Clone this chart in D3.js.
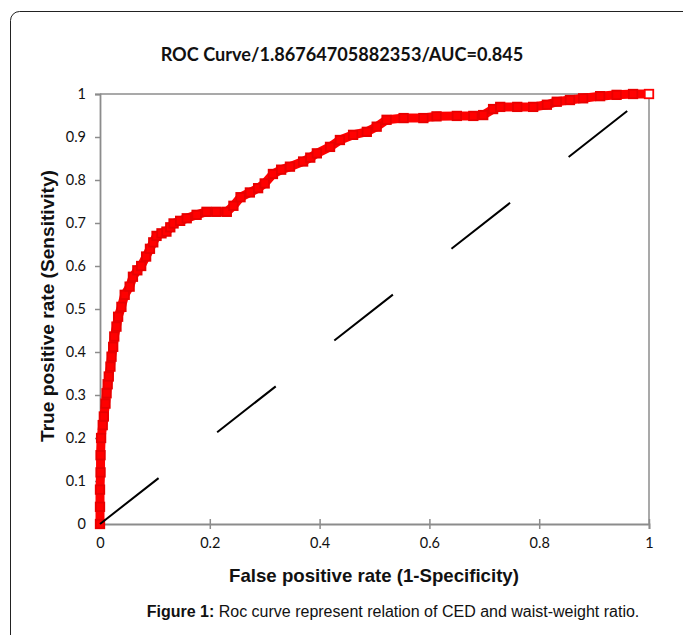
<!DOCTYPE html>
<html>
<head>
<meta charset="utf-8">
<script src="https://cdn.jsdelivr.net/npm/d3@7"></script>
<style>
  html,body{margin:0;padding:0;background:#fff;}
  svg{display:block;}
</style>
</head>
<body>
<div id="chart"></div>
<script>
// ROC points
const fpr=[0,0,0,0.001,0.001,0.002,0.005,0.007,0.010,0.012,0.014,0.016,0.019,0.021,0.024,0.026,0.030,0.033,0.039,0.045,
  0.054,0.060,0.068,0.075,0.084,0.091,0.097,0.103,0.112,0.121,0.128,0.134,0.146,0.158,0.176,0.194,0.212,0.231,0.243,0.256,
  0.273,0.288,0.300,0.315,0.330,0.346,0.370,0.383,0.395,0.419,0.437,0.461,0.486,0.504,0.522,0.553,0.589,0.613,0.650,0.680,
  0.698,0.716,0.729,0.760,0.789,0.814,0.832,0.856,0.880,0.911,0.941,0.971,1.0];
const tpr=[0,0.04,0.08,0.12,0.16,0.20,0.23,0.25,0.28,0.304,0.325,0.343,0.366,0.389,0.412,0.436,0.459,0.482,0.505,0.533,
  0.552,0.575,0.590,0.600,0.622,0.640,0.655,0.670,0.676,0.680,0.690,0.699,0.705,0.711,0.719,0.726,0.726,0.726,0.740,0.760,
  0.771,0.781,0.792,0.814,0.824,0.831,0.843,0.852,0.862,0.877,0.893,0.905,0.912,0.924,0.940,0.944,0.944,0.948,0.949,0.949,
  0.951,0.965,0.970,0.970,0.970,0.975,0.982,0.986,0.990,0.995,0.998,1.0,1.0];
const yTicks=[0,0.1,0.2,0.3,0.4,0.5,0.6,0.7,0.8,0.9,1];
const xTicks=[0,0.2,0.4,0.6,0.8,1];
const title="ROC Curve/1.86764705882353/AUC=0.845";
const xTitle="False positive rate (1-Specificity)";
const yTitle="True positive rate (Sensitivity)";

const W=683,H=635;
const svg=d3.select("#chart").append("svg").attr("width",W).attr("height",H);

// outer figure frame
svg.append("rect").attr("x",10.5).attr("y",11.5).attr("width",720).attr("height",700)
  .attr("rx",9).attr("fill","none").attr("stroke","#222").attr("stroke-width",1);

const m={left:100,top:94,right:649,bottom:524};
const x=d3.scaleLinear().domain([0,1]).range([m.left,m.right]);
const y=d3.scaleLinear().domain([0,1]).range([m.bottom,m.top]);
const axisCol="#8c8c8c";
const tickFont="Lato, 'Open Sans', sans-serif";
const arial="'Liberation Sans', Arial, sans-serif";

// shrink/grow a text node's font size until it spans the wanted width
function fitWidth(sel,size,target){
  sel.attr("font-size",size);
  const len=sel.node().getComputedTextLength();
  sel.attr("font-size",size*target/len);
}

// title
const t=svg.append("text").attr("x",342).attr("y",61).attr("text-anchor","middle")
  .attr("font-family",tickFont).attr("font-weight","bold").attr("fill","#111").text(title);
fitWidth(t,16,363);

// plot frame (top + right)
svg.append("line").attr("x1",x(0)).attr("x2",x(1)).attr("y1",y(1)).attr("y2",y(1))
  .attr("stroke",axisCol).attr("stroke-width",1.5);
svg.append("line").attr("x1",x(1)).attr("x2",x(1)).attr("y1",y(1)).attr("y2",y(0))
  .attr("stroke",axisCol).attr("stroke-width",1.5);

// y axis
const gy=svg.append("g").attr("transform",`translate(${x(0)},0)`)
  .call(d3.axisLeft(y).tickValues(yTicks).tickFormat(d=>d3.format("")(+d.toFixed(1))).tickSize(5).tickPadding(9));
gy.select(".domain").attr("stroke",axisCol).attr("stroke-width",1.8);
gy.selectAll(".tick line").attr("stroke",axisCol).attr("stroke-width",1.5);
gy.selectAll(".tick text").attr("font-family",tickFont).attr("font-size",14.5).attr("fill","#111");

// x axis with crossing ticks
const gx=svg.append("g").attr("transform",`translate(0,${y(0)})`)
  .call(d3.axisBottom(x).tickValues(xTicks).tickFormat(d=>d3.format("")(+d.toFixed(1))).tickSize(5).tickPadding(9));
gx.select(".domain").attr("stroke",axisCol).attr("stroke-width",1.8);
gx.selectAll(".tick line").attr("y1",-5).attr("y2",5).attr("stroke",axisCol).attr("stroke-width",1.5);
gx.selectAll(".tick text").attr("font-family",tickFont).attr("font-size",14.5).attr("fill","#111");

// axis titles
const xt=svg.append("text").attr("x",374).attr("y",582).attr("text-anchor","middle")
  .attr("font-family",arial).attr("font-weight","bold").attr("fill","#111").text(xTitle);
fitWidth(xt,16,290);
const yt=svg.append("text").attr("transform","translate(54,306) rotate(-90)").attr("text-anchor","middle")
  .attr("font-family",arial).attr("font-weight","bold").attr("fill","#111").text(yTitle);
fitWidth(yt,16,272);

// ROC curve: thick band + square markers
const pts=fpr.map((f,i)=>({f,t:tpr[i]}));
svg.append("path").datum(pts).attr("fill","none").attr("stroke","#f00").attr("stroke-width",9)
  .attr("stroke-linejoin","miter")
  .attr("d",d3.line().x(d=>x(d.f)).y(d=>y(d.t)));
const ms=8.5;
svg.selectAll("rect.mk").data(pts).join("rect").attr("class","mk")
  .attr("x",d=>x(d.f)-ms/2).attr("y",d=>y(d.t)-ms/2).attr("width",ms).attr("height",ms)
  .attr("fill",(d,i)=>i===pts.length-1?"#fff":"#f00")
  .attr("stroke",(d,i)=>i===pts.length-1?"#f00":"#e80000").attr("stroke-width",1.8);

// reference diagonal, dashed
const diag=svg.append("line").attr("x1",x(0)).attr("y1",y(0)).attr("x2",x(1)).attr("y2",y(1))
  .attr("stroke","#000").attr("stroke-width",2);
const L=Math.hypot(x(1)-x(0),y(0)-y(1));
diag.attr("stroke-dasharray",`${L*0.1067},${L*0.1067}`);

// caption
const cap=svg.append("text").attr("x",393).attr("y",617).attr("text-anchor","middle")
  .attr("font-family",arial).attr("font-size",16).attr("fill","#111");
cap.append("tspan").attr("font-weight","bold").text("Figure 1:");
cap.append("tspan").text(" Roc curve represent relation of CED and waist-weight ratio.");
</script>
</body>
</html>
